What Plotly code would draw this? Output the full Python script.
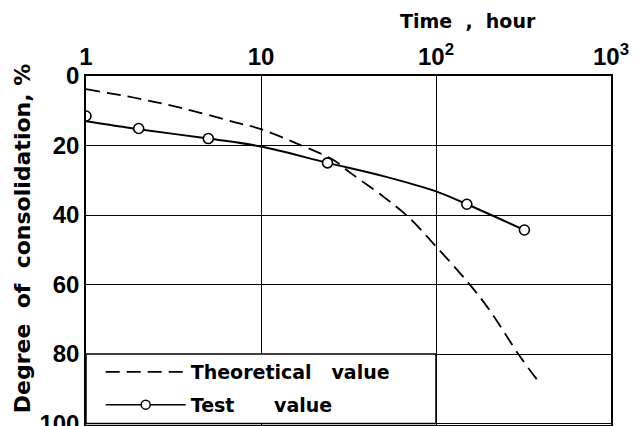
import plotly.graph_objects as go

# Test value data points
test_time = [1, 2, 5, 24, 150, 320]
test_degree = [11.5, 15.1, 18.0, 25.0, 36.9, 44.3]

# Smooth fit through test values
fit_time = [1, 2, 5, 10, 24, 50, 100, 150, 320]
fit_degree = [13.0, 15.3, 18.0, 20.3, 25.0, 28.8, 33.2, 36.9, 44.3]

# Theoretical curve
theo_time = [1, 2, 3.7, 7.2, 10, 16.7, 25.8, 32.3, 50, 69, 99, 150, 200, 300, 380]
theo_degree = [3.8, 6.5, 9.5, 13.4, 15.3, 19.8, 24.1, 27.8, 34.7, 40.4, 48.8, 59.0, 67.0, 80.5, 87.5]

x_tickvals = [1, 10, 100, 1000]
x_ticktext = ["1", "10", "10<sup>2</sup>", "10<sup>3</sup>"]
y_tickvals = [0, 20, 40, 60, 80, 100]
y_ticktext = ["0", "20", "40", "60", "80", "100"]

FONT = "DejaVu Sans"
TICKFONT = "Liberation Sans"
NB = "\u00a0"

fig = go.Figure()

fig.add_trace(go.Scatter(
    x=theo_time, y=theo_degree, mode="lines", line_shape="spline",
    line=dict(color="black", width=1.8, dash="14px,7px"),
    name="Theoretical" + NB * 3 + "value", legendgroup="a",
))
fig.add_trace(go.Scatter(
    x=fit_time, y=fit_degree, mode="lines", line_shape="spline",
    line=dict(color="black", width=2), showlegend=False,
))
fig.add_trace(go.Scatter(
    x=test_time, y=test_degree, mode="markers",
    marker=dict(symbol="circle", size=10, color="white",
                line=dict(color="black", width=1.6)),
    showlegend=False,
))
# legend entry for test value
fig.add_trace(go.Scatter(
    x=[None], y=[None], mode="lines+markers",
    line=dict(color="black", width=1.5),
    marker=dict(symbol="circle", size=9, color="white",
                line=dict(color="black", width=1.5)),
    name="Test" + NB * 6 + "value", legendgroup="b",
))

# legend cell box (covers lower-left grid cell)
fig.add_shape(type="rect", xref="x", yref="y", x0=1, x1=100, y0=80, y1=100,
              fillcolor="white", line=dict(color="black", width=1.5),
              layer="between")

# page body has an 8px margin, so the figure is sized to fill the rest of the window
fig.update_layout(
    width=632, height=418,
    margin=dict(l=78, r=29, t=68, b=1, autoexpand=False),
    paper_bgcolor="white", plot_bgcolor="white",
    font=dict(family=FONT, color="black"),
    legend=dict(x=0.028, y=0.206, xanchor="left", yanchor="top",
                bgcolor="rgba(0,0,0,0)", borderwidth=0,
                font=dict(family=FONT, size=19, color="black", weight="bold"),
                itemwidth=80, tracegroupgap=5),
    annotations=[
        dict(text="<b>Time" + NB + " ," + NB * 2 + "hour</b>", xref="paper", yref="paper",
             x=0.728, y=1.158, xanchor="center", yanchor="middle",
             showarrow=False, font=dict(family=FONT, size=19, color="black")),
        dict(text="<b>Degree" + NB * 2 + "of" + NB * 2 + "consolidation," + NB + "%</b>",
             xref="paper", yref="paper",
             x=0, xshift=-64, y=0.535, xanchor="center", yanchor="middle",
             textangle=-90, showarrow=False,
             font=dict(family=FONT, size=22, color="black")),
    ],
)

fig.update_xaxes(
    type="log", range=[0, 3], side="top",
    tickvals=x_tickvals, ticktext=x_ticktext,
    tickfont=dict(family=TICKFONT, size=24, color="black", weight="bold"),
    ticklabeloverflow="allow", automargin=False,
    showgrid=True, gridcolor="black", gridwidth=1.2,
    showline=True, linecolor="black", linewidth=1.5, mirror=True,
    ticks="", zeroline=False,
)
fig.update_yaxes(
    range=[100.4, 0],
    tickvals=y_tickvals, ticktext=y_ticktext,
    tickfont=dict(family=TICKFONT, size=24, color="black", weight="bold"),
    ticklabeloverflow="allow", automargin=False,
    showgrid=True, gridcolor="black", gridwidth=1.2,
    showline=True, linecolor="black", linewidth=1.5, mirror=True,
    ticks="", zeroline=False,
)

fig.write_html("out.html")
